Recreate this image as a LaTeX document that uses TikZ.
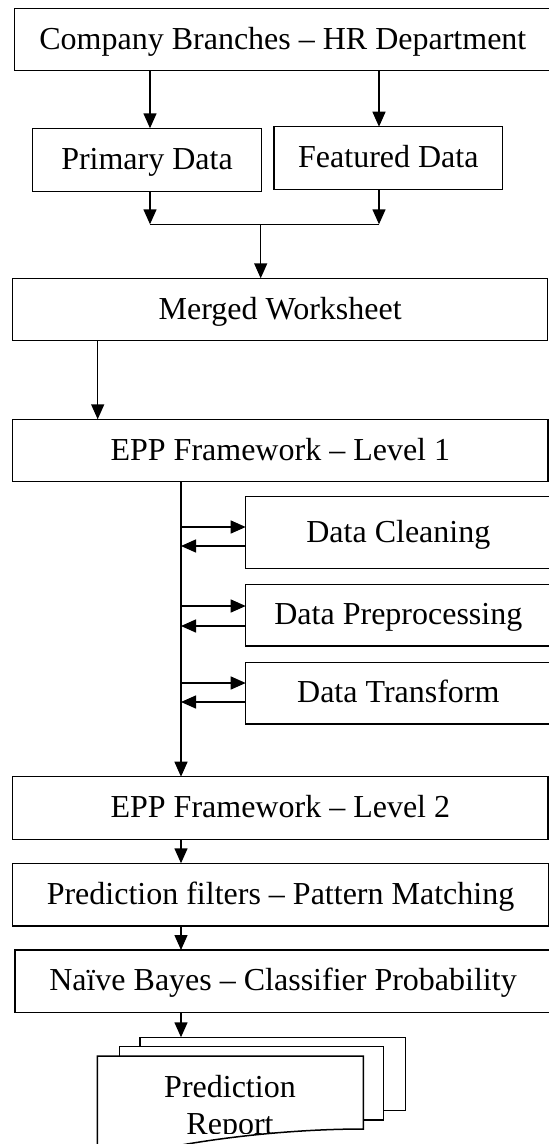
\documentclass[tikz,border=0pt]{standalone}
\usepackage{fontspec}
\setmainfont{Liberation Serif}
\usetikzlibrary{arrows.meta}
\begin{document}
\begin{tikzpicture}[x=1pt,y=-1pt,
  box/.style={draw, line width=1.5pt, inner sep=0pt, outer sep=0pt,
    font=\fontsize{32}{37}\selectfont, text height=24pt, text depth=4.8pt},
  sheet/.style={draw, fill=white, line width=1.5pt, inner sep=0pt, outer sep=0pt},
  lbl/.style={inner sep=0pt, font=\fontsize{32}{37}\selectfont, anchor=base},
  arr/.style={line width=1.4pt, -{Triangle[length=15pt,width=13pt]}},
  ln/.style={line width=1.4pt}]
\useasboundingbox (0,0) rectangle (549,1144);

% boxes
\node[box, minimum width=536.3pt, minimum height=62.4pt] (top) at (282.85,39.5) {Company Branches -- HR Department};
\node[box, minimum width=228.6pt, minimum height=63.4pt] (pd) at (147,160) {Primary Data};
\node[box, minimum width=228.7pt, minimum height=62.6pt] (fd) at (388.35,158) {Featured Data};
\node[box, minimum width=535pt, minimum height=62.4pt] (mw) at (280.2,309.5) {Merged Worksheet};
\node[box, minimum width=535.3pt, minimum height=62.4pt] (e1) at (280.35,450.5) {EPP Framework -- Level 1};
\node[box, minimum width=305.3pt, minimum height=71.6pt] (dc) at (398.35,532.5) {Data Cleaning};
\node[box, minimum width=305.3pt, minimum height=61.7pt] (dp) at (398.35,615.15) {Data Preprocessing};
\node[box, minimum width=305.3pt, minimum height=61.3pt] (dt) at (398.35,693.35) {Data Transform};
\node[box, minimum width=535.3pt, minimum height=62.6pt] (e2) at (280.35,808) {EPP Framework -- Level 2};
\node[box, minimum width=535.6pt, minimum height=62.7pt] (pf) at (280.5,894.65) {Prediction filters -- Pattern Matching};
\node[box, minimum width=536pt, minimum height=62.7pt] (nb) at (283,981.35) {Naïve Bayes -- Classifier Probability};

% column coordinates
\coordinate (j1) at (150,224.3);
\coordinate (j2) at (379,224.3);
\coordinate (jm) at (260.7,224.3);
\coordinate (c0) at (97.7,0);
\coordinate (trunk) at (181,0);

% top part
\draw[arr] (top.south -| j1) -- (pd.north -| j1);
\draw[arr] (top.south -| j2) -- (fd.north -| j2);
\draw[arr] (pd.south -| j1) -- (j1);
\draw[arr] (fd.south -| j2) -- (j2);
\draw[ln] (j1) -- (j2);
\draw[arr] (jm) -- (mw.north -| jm);
\draw[arr] (mw.south -| c0) -- (e1.north -| c0);

% trunk with side steps
\draw[arr] (e1.south -| trunk) -- (e2.north -| trunk);
\coordinate (a1) at (181,527);
\coordinate (b1) at (181,546);
\coordinate (a2) at (181,606);
\coordinate (b2) at (181,626);
\coordinate (a3) at (181,683);
\coordinate (b3) at (181,702);
\draw[arr] (a1) -- (a1 -| dc.west);
\draw[arr] (b1 -| dc.west) -- (b1);
\draw[arr] (a2) -- (a2 -| dp.west);
\draw[arr] (b2 -| dp.west) -- (b2);
\draw[arr] (a3) -- (a3 -| dt.west);
\draw[arr] (b3 -| dt.west) -- (b3);

% lower chain
\draw[arr] (e2.south -| trunk) -- (pf.north -| trunk);
\draw[arr] (pf.south -| trunk) -- (nb.north -| trunk);

% multi-document
\node[sheet, minimum width=265.7pt, minimum height=73.4pt] (d3) at (272.85,1074) {};
\node[sheet, minimum width=264pt, minimum height=73.3pt] (d2) at (251.3,1083.35) {};
\draw[line width=1.5pt, fill=white] (97.3,1056) -- (363.3,1056) -- (363.3,1129)
  .. controls (300,1129) and (225,1136) .. (160,1149) -- (97.3,1152) -- cycle;
\draw[arr] (nb.south -| trunk) -- (d3.north -| trunk);
\begin{scope}
  \clip (0,0) rectangle (549,1133.5);
  \node[lbl] (r1) at (230,1097) {Prediction};
  \node[lbl] (r2) at (230,1134) {Report};
\end{scope}
\end{tikzpicture}
\end{document}
